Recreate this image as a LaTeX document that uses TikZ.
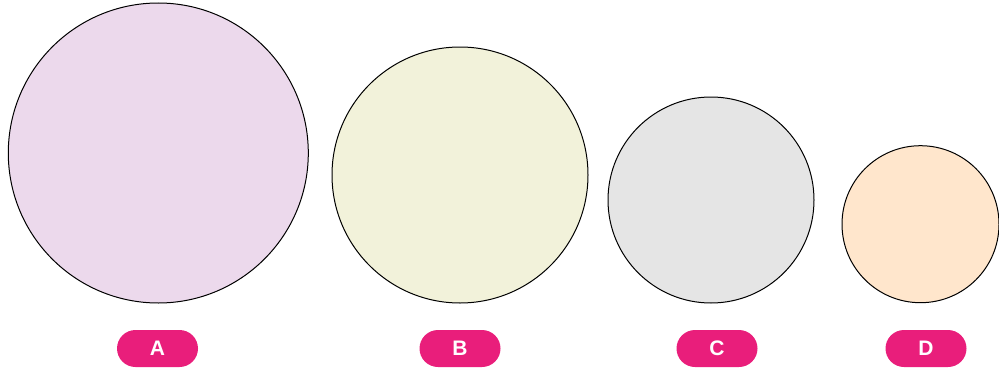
\documentclass[tikz,border=0pt]{standalone}
\usepackage{fontspec}
\setmainfont{Liberation Sans}
\definecolor{cA}{HTML}{ECD9EC}
\definecolor{cB}{HTML}{F2F2DA}
\definecolor{cC}{HTML}{E5E5E5}
\definecolor{cD}{HTML}{FFE6CC}
\definecolor{pinkl}{HTML}{E91E7B}
\begin{document}
\begin{tikzpicture}[x=1pt,y=-1pt,
  disc/.style={circle,draw=black,line width=1pt,inner sep=0pt},
  tag/.style={rounded corners=18.5pt,fill=pinkl,minimum width=81pt,minimum height=37pt,inner sep=0pt,text=white,font=\bfseries\fontsize{21}{21}\selectfont}]
\useasboundingbox (0,0) rectangle (999,372);
\node[disc,fill=cA,minimum size=300pt] (A) at (158.3,153) {};
\node[disc,fill=cB,minimum size=256pt] (B) at (460,175) {};
\node[disc,fill=cC,minimum size=206pt] (C) at (711,200) {};
\node[disc,fill=cD,minimum size=157pt] (D) at (920.5,224.2) {};
\node[tag] (la) at (157.5,348.5) {A};
\node[tag] (lb) at (460,348.5) {B};
\node[tag] (lc) at (717,348.5) {C};
\node[tag] (ld) at (926,348.5) {D};
\end{tikzpicture}
\end{document}
